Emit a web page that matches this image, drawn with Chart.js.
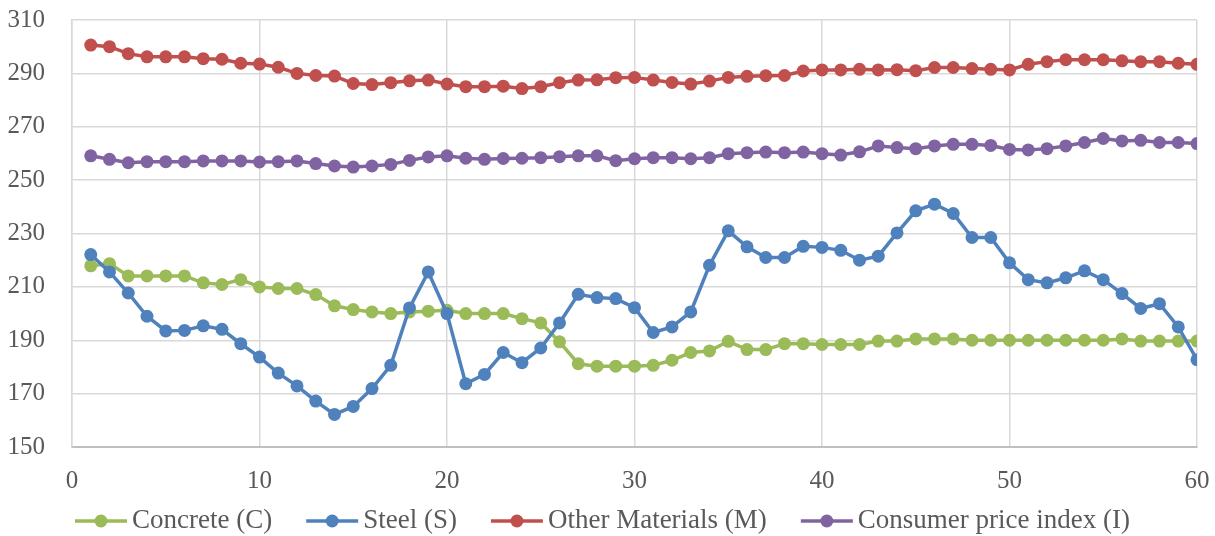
<!DOCTYPE html>
<html>
<head>
<meta charset="utf-8">
<script src="https://cdn.jsdelivr.net/npm/chart.js@4/dist/chart.umd.min.js"></script>
<style>
    html, body { margin: 0; padding: 0; background: #fff; }
    #wrap { width: 1215px; height: 536px; }
</style>
</head>
<body>
<div id="wrap"><canvas id="priceChart" width="1215" height="536"></canvas></div>
<script>
// Period numbers along the x axis
const periods = [1, 2, 3, 4, 5, 6, 7, 8, 9, 10, 11, 12, 13, 14, 15, 16, 17, 18, 19, 20,
    21, 22, 23, 24, 25, 26, 27, 28, 29, 30, 31, 32, 33, 34, 35, 36, 37, 38, 39, 40,
    41, 42, 43, 44, 45, 46, 47, 48, 49, 50, 51, 52, 53, 54, 55, 56, 57, 58, 59, 60];

const concrete = [217.9, 218.7, 214.1, 214.1, 214.1, 214.1, 211.5, 210.9, 212.7, 210.0,
    209.4, 209.4, 207.1, 202.9, 201.5, 200.6, 200.0, 200.6, 200.9, 201.2,
    200.0, 200.0, 200.0, 198.1, 196.5, 189.4, 181.2, 180.3, 180.3, 180.3,
    180.6, 182.5, 185.4, 186.0, 189.6, 186.5, 186.5, 188.7, 188.7, 188.4,
    188.4, 188.4, 189.7, 189.7, 190.5, 190.5, 190.5, 190.0, 190.0, 190.0,
    190.0, 190.0, 190.0, 190.0, 190.0, 190.5, 189.7, 189.7, 189.7, 189.7];

const steel = [222.1, 215.6, 207.7, 199.0, 193.5, 193.7, 195.4, 194.1, 188.7, 183.7,
    177.7, 172.9, 167.2, 162.2, 165.2, 171.9, 180.6, 202.1, 215.6, 200.0,
    173.7, 177.2, 185.4, 181.6, 187.1, 196.5, 207.2, 206.0, 205.6, 202.2,
    192.9, 195.0, 200.6, 218.1, 231.0, 225.0, 221.0, 221.0, 225.2, 224.8,
    223.7, 220.0, 221.5, 230.2, 238.5, 241.0, 237.5, 228.5, 228.5, 219.0,
    212.7, 211.5, 213.4, 216.0, 212.7, 207.5, 201.9, 203.7, 195.0, 182.7];

const otherMaterials = [300.6, 300.0, 297.4, 296.2, 296.2, 296.2, 295.5, 295.3, 293.8, 293.5,
    292.3, 290.0, 289.2, 289.0, 286.2, 285.8, 286.5, 287.2, 287.5, 286.0,
    285.0, 285.0, 285.2, 284.3, 285.0, 286.5, 287.5, 287.6, 288.4, 288.5,
    287.5, 286.6, 286.0, 287.1, 288.5, 288.9, 289.1, 289.2, 290.9, 291.3,
    291.3, 291.5, 291.3, 291.4, 291.0, 292.2, 292.2, 291.8, 291.5, 291.3,
    293.4, 294.4, 295.1, 295.1, 295.1, 294.7, 294.4, 294.4, 293.8, 293.4];

const consumerPrice = [259.1, 257.8, 256.5, 256.9, 256.9, 256.9, 257.2, 257.2, 257.2, 256.8,
    256.9, 257.2, 256.2, 255.3, 254.9, 255.3, 255.9, 257.4, 258.7, 259.1,
    258.2, 257.8, 258.1, 258.2, 258.4, 258.8, 259.1, 259.1, 257.3, 258.0,
    258.4, 258.4, 258.0, 258.4, 259.9, 260.3, 260.5, 260.3, 260.5, 259.9,
    259.4, 260.6, 262.8, 262.2, 261.8, 262.8, 263.4, 263.4, 263.0, 261.5,
    261.3, 261.8, 262.8, 264.1, 265.6, 264.7, 264.9, 264.1, 264.1, 263.7];

const seriesNames = ['Concrete (C)', 'Steel (S)', 'Other Materials (M)', 'Consumer price index (I)'];
const seriesColors = ['#9bbb59', '#4f81bd', '#c0504d', '#8064a2'];
const seriesValues = [concrete, steel, otherMaterials, consumerPrice];

const xTicks = [0, 10, 20, 30, 40, 50, 60];
const yTicks = [150, 170, 190, 210, 230, 250, 270, 290, 310];

const FONT = "'Liberation Serif', 'Times New Roman', serif";
const TEXT_COLOR = '#595959';

// Excel-style legend: short line with a dot, then the label, all in one row
const lineLegend = {
    id: 'lineLegend',
    afterDraw(chart) {
        const ctx = chart.ctx;
        const markerW = 52, gapText = 5, gapItem = 34;
        ctx.save();
        ctx.font = '27px ' + FONT;
        const widths = seriesNames.map(n => ctx.measureText(n).width);
        const total = widths.reduce((a, w) => a + markerW + gapText + w, 0) + gapItem * (seriesNames.length - 1);
        let x = (chart.width - total) / 2 - 5;
        const y = chart.height - 15;
        seriesNames.forEach((name, i) => {
            ctx.strokeStyle = seriesColors[i];
            ctx.fillStyle = seriesColors[i];
            ctx.lineWidth = 3.5;
            ctx.beginPath();
            ctx.moveTo(x, y);
            ctx.lineTo(x + markerW, y);
            ctx.stroke();
            ctx.beginPath();
            ctx.arc(x + markerW / 2, y, 6.5, 0, Math.PI * 2);
            ctx.fill();
            x += markerW + gapText;
            ctx.fillStyle = TEXT_COLOR;
            ctx.textBaseline = 'middle';
            ctx.textAlign = 'left';
            ctx.fillText(name, x, y);
            x += widths[i] + gapItem;
        });
        ctx.restore();
    }
};

const datasets = seriesValues.map((values, i) => ({
    label: seriesNames[i],
    data: periods.map((p, j) => ({ x: p, y: values[j] })),
    borderColor: seriesColors[i],
    backgroundColor: seriesColors[i],
    borderWidth: 3.5,
    pointRadius: 6.5,
    pointBorderWidth: 0,
    pointHoverRadius: 6.5,
    tension: 0,
    order: seriesValues.length - 1 - i // first series drawn underneath
}));

Chart.defaults.font.family = FONT;
Chart.defaults.color = TEXT_COLOR;

new Chart(document.getElementById('priceChart'), {
    type: 'line',
    data: { datasets },
    plugins: [lineLegend],
    options: {
        responsive: false,
        animation: false,
        devicePixelRatio: 1,
        layout: { padding: { left: 0, right: 18, top: 20, bottom: 39 } },
        plugins: {
            tooltip: { enabled: false },
            legend: { display: false }
        },
        scales: {
            x: {
                type: 'linear',
                min: xTicks[0],
                max: xTicks[xTicks.length - 1],
                afterBuildTicks: axis => { axis.ticks = xTicks.map(v => ({ value: v })); },
                afterFit: axis => { axis.height = 50; },
                // invisible tick marks keep the labels away from the axis
                grid: { color: '#d9d9d9', lineWidth: 1.5, drawTicks: true, tickLength: 19, tickColor: 'rgba(0,0,0,0)' },
                border: { color: '#bfbfbf', width: 2 },
                ticks: { font: { size: 25 }, padding: 0, color: TEXT_COLOR, maxRotation: 0 }
            },
            y: {
                min: yTicks[0],
                max: yTicks[yTicks.length - 1],
                afterBuildTicks: axis => { axis.ticks = yTicks.map(v => ({ value: v })); },
                afterFit: axis => { axis.width = 72; },
                grid: { color: '#d9d9d9', lineWidth: 1.5, drawTicks: true, tickLength: 27, tickColor: 'rgba(0,0,0,0)' },
                border: { color: '#d9d9d9', width: 1.5 },
                ticks: { font: { size: 25 }, padding: 0, color: TEXT_COLOR }
            }
        }
    }
});
</script>
</body>
</html>
